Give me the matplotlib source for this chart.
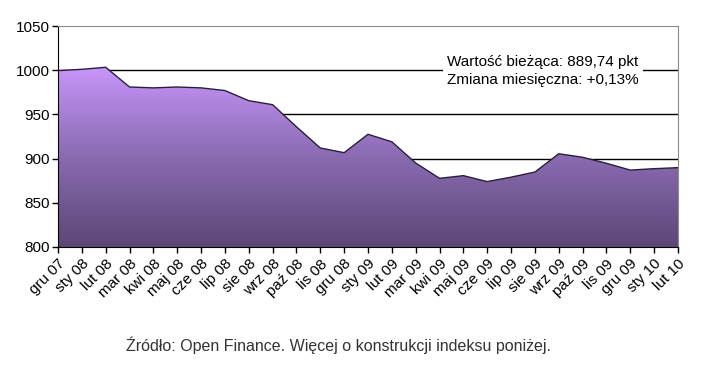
import matplotlib.pyplot as plt
import numpy as np
from matplotlib.colors import LinearSegmentedColormap

months = ["gru 07", "sty 08", "lut 08", "mar 08", "kwi 08", "maj 08", "cze 08",
          "lip 08", "sie 08", "wrz 08", "paź 08", "lis 08", "gru 08", "sty 09",
          "lut 09", "mar 09", "kwi 09", "maj 09", "cze 09", "lip 09", "sie 09",
          "wrz 09", "paź 09", "lis 09", "gru 09", "sty 10", "lut 10"]
values = [999.5, 1001, 1003.3, 981, 980, 981, 980, 977, 965.5, 961, 936, 912,
          906.7, 927.5, 919, 895, 877.7, 880.7, 874, 879, 884.8, 905.5, 901.5,
          894.7, 887, 888.6, 889.74]
yticks = [800, 850, 900, 950, 1000, 1050]

plt.rcParams["font.family"] = ["Liberation Sans", "DejaVu Sans"]

fig = plt.figure(figsize=(7.02, 3.65), dpi=100)
ax = fig.add_axes([58 / 702, 1 - 247 / 365, 620 / 702, 221 / 365])

x = np.arange(len(values))
ax.set_xlim(0, len(values) - 1)
ax.set_ylim(800, 1050)

# gridlines
for v in [900, 950, 1000]:
    ax.axhline(v, color="black", lw=1.0, zorder=1)

# gradient fill clipped to the area
poly = ax.fill_between(x, values, 800, color="none", lw=0, zorder=2)
cmap = LinearSegmentedColormap.from_list("purp", ["#5c4676", "#8a6bb2", "#c896fb"])
grad = np.linspace(0, 1, 256).reshape(-1, 1)
img = ax.imshow(grad, cmap=cmap, aspect="auto", origin="lower",
                extent=[0, len(values) - 1, 800, 1005], zorder=2)
path = poly.get_paths()[0]
img.set_clip_path(path, transform=ax.transData)
ax.plot(x, values, color="#2a1f3a", lw=1.0, zorder=3)

ax.set_yticks(yticks)
ax.set_yticklabels([str(v) for v in yticks], fontsize=11)
ax.set_xticks(x)
ax.set_xticklabels(months, rotation=45, ha="right", rotation_mode="anchor", fontsize=11)
ax.tick_params(axis="x", length=4, width=1, direction="out", pad=3)
ax.tick_params(axis="y", length=4, width=1, direction="out", pad=2)

ax.spines["top"].set_color("#8c8c8c")
ax.spines["right"].set_color("#8c8c8c")
ax.spines["left"].set_color("black")
ax.spines["bottom"].set_color("black")

ax.text(0.628, 0.797, "Wartość bieżąca: 889,74 pkt\nZmiana miesięczna: +0,13%",
        transform=ax.transAxes, fontsize=11, va="center", ha="left",
        linespacing=1.3, zorder=5,
        bbox=dict(facecolor="white", edgecolor="none", pad=3))

fig.text(338 / 702, 1 - 345 / 365, "Źródło: Open Finance. Więcej o konstrukcji indeksu poniżej.",
         ha="center", va="center", fontsize=11.5, color="#333333")

fig.savefig("out.png", dpi=100)
